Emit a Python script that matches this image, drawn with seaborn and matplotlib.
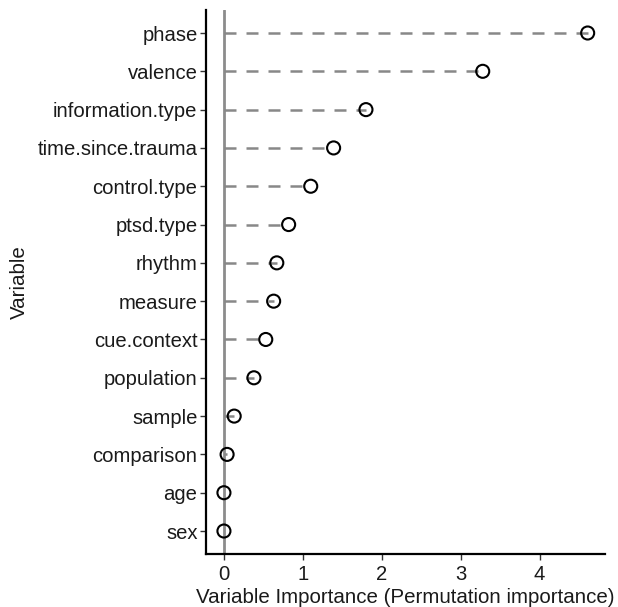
import matplotlib
matplotlib.use("Agg")
import matplotlib.pyplot as plt
import seaborn as sns
import pandas as pd

variables = ["phase", "valence", "information.type", "time.since.trauma",
             "control.type", "ptsd.type", "rhythm", "measure", "cue.context",
             "population", "sample", "comparison", "age", "sex"]
importance = [4.61, 3.28, 1.80, 1.39, 1.10, 0.82, 0.67, 0.63, 0.53,
              0.38, 0.13, 0.04, 0.0, 0.0]
x_ticks = [0, 1, 2, 3, 4]

df = pd.DataFrame({"Variable": variables, "Importance": importance})

sns.set_theme(style="ticks")
plt.rcParams["font.family"] = ["Liberation Sans", "DejaVu Sans"]

fig = plt.figure(figsize=(6.18, 6.07), dpi=100)
ax = fig.add_axes([0.333, 0.0873, 0.646, 0.8962])

ypos = list(range(len(variables)))
ax.axvline(0, color="#8c8c8c", lw=2, zorder=1)
ax.hlines(ypos, 0, df["Importance"], colors="#888888", linestyles=(0, (4.8, 4)),
          lw=1.8, zorder=2)
sns.scatterplot(data=df, x="Importance", y="Variable", ax=ax, s=88,
                facecolor="none", edgecolor="black", linewidth=1.5, zorder=3)

ax.set_xlim(-0.23, 4.83)
ax.set_ylim(len(variables) - 1 + 0.6, -0.6)
ax.set_xticks(x_ticks)
ax.set_xticklabels([str(t) for t in x_ticks])
ax.set_xlabel("Variable Importance (Permutation importance)", fontsize=14.8,
              color="#1a1a1a", labelpad=3)
ax.set_ylabel("Variable", fontsize=14.8, color="#1a1a1a", labelpad=6)
ax.tick_params(axis="both", labelsize=14.6, colors="#1a1a1a", length=4, width=1)
ax.tick_params(axis="x", pad=4)
ax.tick_params(axis="y", pad=2)
ax.tick_params(axis="both", color="#333333")
for side in ["top", "right"]:
    ax.spines[side].set_visible(False)
for side in ["left", "bottom"]:
    ax.spines[side].set_linewidth(1.6)
    ax.spines[side].set_color("black")

fig.savefig("out.png", dpi=100)
